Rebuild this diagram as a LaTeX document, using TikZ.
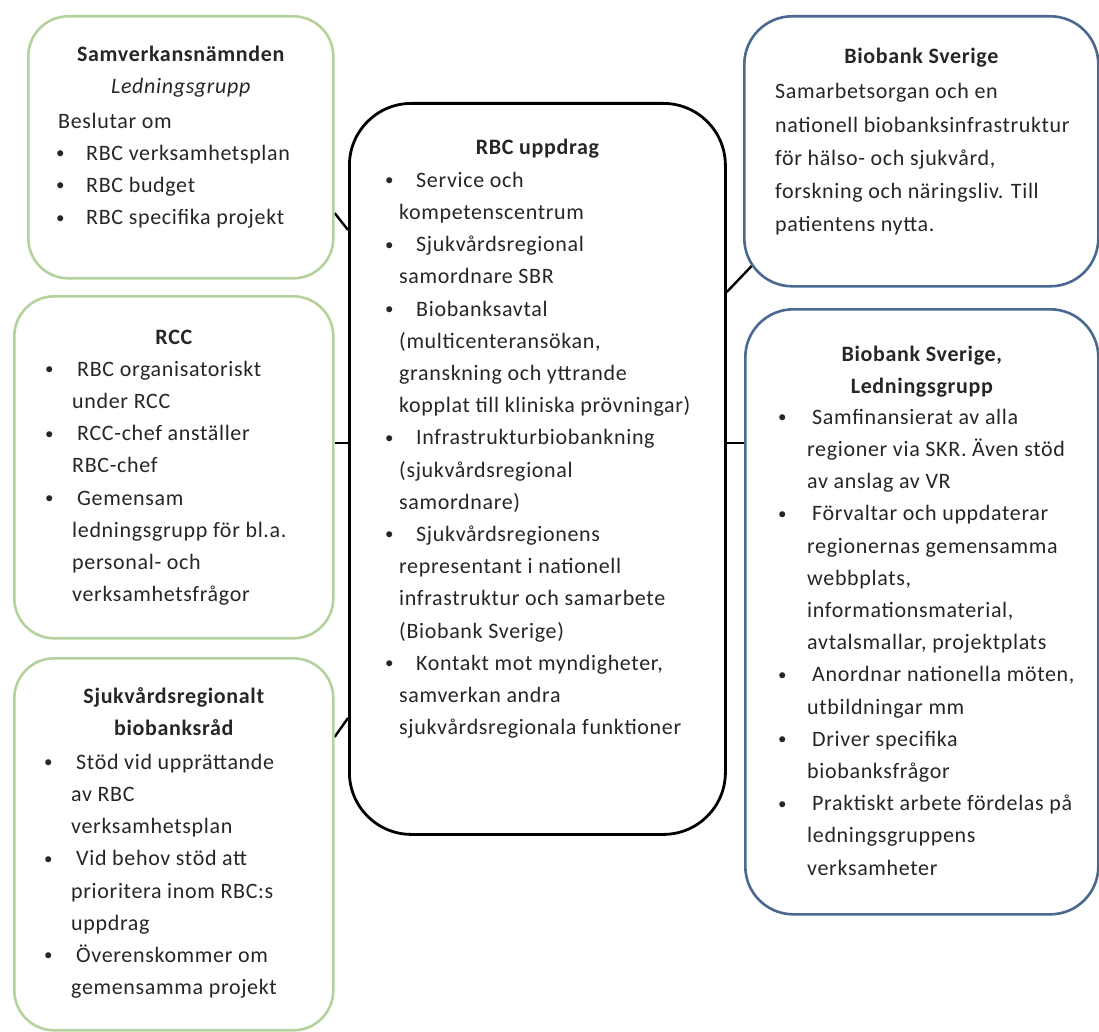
\documentclass[tikz,border=0pt]{standalone}
\usepackage{fontspec}
\setmainfont{Carlito}[LetterSpace=3]
\usepackage{tikz}
\usetikzlibrary{calc,backgrounds}
\definecolor{LeafGreen}{HTML}{B5D29C}
\definecolor{SteelBlue}{HTML}{4A6890}
\definecolor{Ink}{HTML}{262626}
\newcommand{\bul}[1][26pt]{\makebox[#1][l]{\hspace*{-4pt}\raisebox{1.6pt}{\fontsize{17}{17}\selectfont\textbullet}}}
\begin{document}
\begin{tikzpicture}[x=1pt,y=-1pt,font=\fontsize{22}{32.2}\selectfont]
  \tikzset{group/.style={draw=LeafGreen,line width=2.6pt,rounded corners=40pt,fill=white,anchor=north west,inner sep=0pt},
           nation/.style={group,draw=SteelBlue,rounded corners=48pt},
           core/.style={group,draw=black,line width=2.8pt,rounded corners=62pt},
           head/.style={anchor=north,yshift=22.54pt,inner sep=0pt,align=center,text=Ink,font=\fontsize{22}{32.2}\selectfont\bfseries},
           body/.style={anchor=north west,yshift=22.54pt,inner sep=0pt,align=left,text=Ink},
           link/.style={draw=black,line width=2.4pt}}
  \useasboundingbox (0,0) rectangle (1099,1032);
  \node[group,minimum width=305,minimum height=262] (samv) at (27,15) {};
  \node[group,minimum width=319,minimum height=342] (rcc) at (13,295) {};
  \node[group,minimum width=319,minimum height=372] (rad) at (13,657) {};
  \node[core,minimum width=376,minimum height=731] (upp) at (348,102) {};
  \node[nation,minimum width=354,minimum height=270] (bbs) at (743,15) {};
  \node[nation,minimum width=353,minimum height=605] (lg) at (744,308) {};
  \begin{scope}[on background layer]
    \draw[link] (samv.east |- 0,213) -- (upp.west |- 0,230);
    \draw[link] (rcc.east |- 0,443) -- (upp.west |- 0,443);
    \draw[link] (rad.east |- 0,737) -- (upp.west |- 0,718);
    \draw[link] (upp.east |- 0,292) -- ($(bbs.south west)+(9,-22)$);
    \draw[link] (upp.east |- 0,443) -- (lg.west |- 0,443);
  \end{scope}
  \node[head] (samvT) at (samv.north |- 0,61) {\strut Samverkansnämnden\\\normalfont\itshape Ledningsgrupp};
  \node[body] (samvB) at (58,128) {\strut Beslutar om\\
    \hspace*{2pt}\bul RBC verksamhetsplan\\
    \hspace*{2pt}\bul RBC budget\\
    \hspace*{2pt}\bul RBC specifika projekt};
  \node[head] (rccT) at (rcc.north |- 0,344) {\strut RCC};
  \node[body] (rccB) at (49,376) {\strut\bul[28pt]RBC organisatoriskt\\
    \hspace*{23pt}under RCC\\
    \bul[28pt]RCC-chef anställer\\
    \hspace*{23pt}RBC-chef\\
    \bul[28pt]Gemensam\\
    \hspace*{23pt}ledningsgrupp för bl.a.\\
    \hspace*{23pt}personal- och\\
    \hspace*{23pt}verksamhetsfrågor};
  \node[head] (radT) at (rad.north |- 0,703) {\strut Sjukvårdsregionalt\\biobanksråd};
  \node[body] (radB) at (48,769) {\strut\bul[28pt]Stöd vid upprättande\\
    \hspace*{23pt}av RBC\\
    \hspace*{23pt}verksamhetsplan\\
    \bul[28pt]Vid behov stöd att\\
    \hspace*{23pt}prioritera inom RBC:s\\
    \hspace*{23pt}uppdrag\\
    \bul[28pt]Överenskommer om\\
    \hspace*{23pt}gemensamma projekt};
  \node[head] (uppT) at (upp.north |- 0,154) {\strut RBC uppdrag};
  \node[body] (uppB) at (389,187) {\strut\bul[27pt]Service och\\
    \hspace*{10pt}kompetenscentrum\\
    \bul[27pt]Sjukvårdsregional\\
    \hspace*{10pt}samordnare SBR\\
    \bul[27pt]Biobanksavtal\\
    \hspace*{10pt}(multicenteransökan,\\
    \hspace*{10pt}granskning och yttrande\\
    \hspace*{10pt}kopplat till kliniska prövningar)\\
    \bul[27pt]Infrastrukturbiobankning\\
    \hspace*{10pt}(sjukvårdsregional\\
    \hspace*{10pt}samordnare)\\
    \bul[27pt]Sjukvårdsregionens\\
    \hspace*{10pt}representant i nationell\\
    \hspace*{10pt}infrastruktur och samarbete\\
    \hspace*{10pt}(Biobank Sverige)\\
    \bul[27pt]Kontakt mot myndigheter,\\
    \hspace*{10pt}samverkan andra\\
    \hspace*{10pt}sjukvårdsregionala funktioner};
  \node[head] (bbsT) at (bbs.north |- 0,63) {\strut Biobank Sverige};
  \node[body,font=\fontsize{22}{33.2}\selectfont] (bbsB) at (775,98) {\strut Samarbetsorgan och en\\
    nationell biobanksinfrastruktur\\
    för hälso- och sjukvård,\\
    forskning och näringsliv. Till\\
    patientens nytta.};
  \node[head] (lgT) at (lg.north |- 0,361) {\strut Biobank Sverige,\\Ledningsgrupp};
  \node[body] (lgB) at (782,424) {\strut\bul[30pt]Samfinansierat av alla\\
    \hspace*{25pt}regioner via SKR. Även stöd\\
    \hspace*{25pt}av anslag av VR\\
    \bul[30pt]Förvaltar och uppdaterar\\
    \hspace*{25pt}regionernas gemensamma\\
    \hspace*{25pt}webbplats,\\
    \hspace*{25pt}informationsmaterial,\\
    \hspace*{25pt}avtalsmallar, projektplats\\
    \bul[30pt]Anordnar nationella möten,\\
    \hspace*{25pt}utbildningar mm\\
    \bul[30pt]Driver specifika\\
    \hspace*{25pt}biobanksfrågor\\
    \bul[30pt]Praktiskt arbete fördelas på\\
    \hspace*{25pt}ledningsgruppens\\
    \hspace*{25pt}verksamheter};
\end{tikzpicture}
\end{document}
